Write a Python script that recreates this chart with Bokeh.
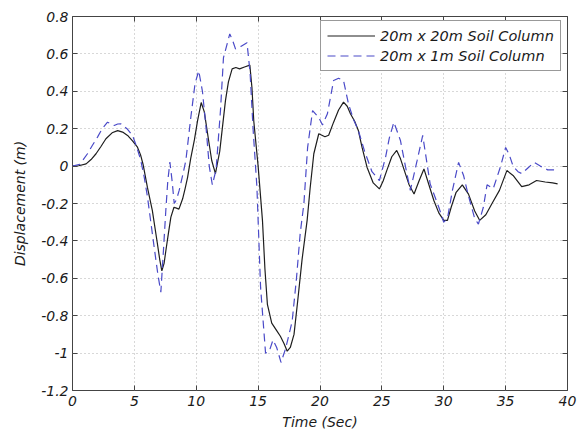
from bokeh.plotting import figure
from bokeh.models import Range1d, LinearAxis, FixedTicker, Legend, LegendItem
from bokeh.embed import file_html
from bokeh.resources import INLINE

# ---- data ----
time_20x20 = [0, 0.5, 1.1, 1.5, 1.9, 2.3, 2.7, 3.2, 3.65, 4.05,
              4.45, 4.85, 5.25, 5.5, 5.7, 6.05, 6.45, 6.85, 7.05, 7.22,
              7.4, 7.55, 7.75, 7.95, 8.2, 8.4, 8.6, 8.9, 9.1, 9.3,
              9.55, 9.85, 10.1, 10.4, 10.65, 11.0, 11.25, 11.55, 11.9, 12.36,
              12.6, 12.9, 13.2, 13.5, 13.9, 14.33, 14.5, 14.65, 15.0, 15.35,
              15.55, 15.75, 16.1, 16.5, 16.8, 17.1, 17.35, 17.6, 17.9, 18.2,
              18.55, 18.96, 19.2, 19.5, 19.9, 20.4, 20.7, 21.1, 21.5, 21.9,
              22.2, 22.46, 22.8, 23.1, 23.4, 23.8, 24.3, 24.8, 25.1, 25.4,
              25.8, 26.2, 26.5, 26.9, 27.2, 27.6, 28.0, 28.4, 28.8, 29.2,
              29.6, 30.0, 30.3, 30.6, 31.0, 31.5, 32.0, 32.5, 32.9, 33.4,
              33.9, 34.5, 35.1, 35.6, 36.3, 36.9, 37.5, 38.2, 38.8, 39.2]
disp_20x20 = [0, 0.002, 0.012, 0.035, 0.066, 0.105, 0.146, 0.178, 0.19, 0.182,
              0.164, 0.135, 0.101, 0.06, 0.01, -0.113, -0.237, -0.41, -0.5, -0.56,
              -0.52, -0.45, -0.36, -0.273, -0.22, -0.225, -0.23, -0.175, -0.12, -0.06,
              0.04, 0.14, 0.24, 0.34, 0.29, 0.137, 0.03, -0.04, 0.08, 0.35,
              0.45, 0.52, 0.527, 0.52, 0.53, 0.54, 0.42, 0.24, 0.0, -0.29,
              -0.55, -0.74, -0.84, -0.88, -0.91, -0.95, -0.99, -0.97, -0.9, -0.72,
              -0.5, -0.29, -0.12, 0.066, 0.173, 0.157, 0.165, 0.235, 0.3, 0.342,
              0.32, 0.28, 0.24, 0.19, 0.1, -0.006, -0.09, -0.122, -0.08, -0.023,
              0.05, 0.084, 0.04, -0.04, -0.1, -0.149, -0.08, -0.015, -0.1, -0.184,
              -0.25, -0.29, -0.29, -0.22, -0.14, -0.1, -0.15, -0.24, -0.29, -0.26,
              -0.2, -0.13, -0.024, -0.05, -0.11, -0.1, -0.077, -0.085, -0.09, -0.095]

time_20x1 = [0, 0.6, 1.21, 1.6, 2.02, 2.4, 2.83, 3.1, 3.37, 3.65,
             3.9, 4.4, 4.85, 5.2, 5.52, 5.8, 6.06, 6.6, 6.9, 7.14,
             7.35, 7.54, 7.7, 7.87, 8.05, 8.22, 8.4, 8.62, 8.9, 9.16,
             9.56, 9.9, 10.2, 10.5, 10.8, 11.05, 11.3, 11.6, 11.96, 12.2,
             12.71, 12.95, 13.17, 13.6, 14.1, 14.35, 14.6, 14.9, 15.2, 15.6,
             15.9, 16.2, 16.5, 16.85, 17.2, 17.5, 17.75, 18.1, 18.4, 18.7,
             19.0, 19.4, 19.9, 20.2, 20.6, 21.1, 21.5, 21.9, 22.3, 22.7,
             23.1, 23.6, 24.2, 24.8, 25.3, 25.6, 25.97, 26.5, 26.9, 27.3,
             27.85, 28.3, 28.9, 29.6, 30.0, 30.3, 30.7, 31.2, 31.6, 32.0,
             32.5, 32.8, 33.2, 33.5, 34.0, 34.6, 35.0, 35.3, 35.6, 36.0,
             36.3, 36.8, 37.3, 37.8, 38.4, 39.2]
disp_20x1 = [0, 0.01, 0.066, 0.11, 0.155, 0.2, 0.235, 0.225, 0.217, 0.225,
             0.226, 0.2, 0.164, 0.1, 0.03, -0.06, -0.166, -0.434, -0.58, -0.674,
             -0.45, -0.237, -0.08, 0.021, -0.08, -0.2, -0.18, -0.13, -0.05, 0.03,
             0.26, 0.44, 0.51, 0.4, 0.2, 0.0, -0.1, -0.02, 0.3, 0.58,
             0.707, 0.67, 0.627, 0.64, 0.66, 0.5, 0.19, -0.11, -0.65, -1.0,
             -0.99, -0.93, -0.97, -1.05, -0.98, -0.9, -0.83, -0.6, -0.36, -0.2,
             0.1, 0.297, 0.26, 0.22, 0.28, 0.458, 0.47, 0.458, 0.333, 0.25,
             0.19, 0.08, -0.03, -0.077, 0.048, 0.15, 0.235, 0.137, 0.0, -0.13,
             0.03, 0.164, -0.095, -0.22, -0.3, -0.28, -0.13, 0.02, -0.05, -0.16,
             -0.28, -0.31, -0.22, -0.1, -0.12, 0.0, 0.1, 0.06, 0.0, -0.03,
             -0.04, -0.01, 0.02, 0.0, -0.02, -0.02]

series_labels = ["20m x 20m Soil Column", "20m x 1m Soil Column"]
x_ticks = [0, 5, 10, 15, 20, 25, 30, 35, 40]
y_ticks = [-1.2, -1, -0.8, -0.6, -0.4, -0.2, 0, 0.2, 0.4, 0.6, 0.8]
y_tick_labels = ["-1.2", "-1", "-0.8", "-0.6", "-0.4", "-0.2", "0", "0.2", "0.4", "0.6", "0.8"]
x_label = "Time (Sec)"
y_label = "Displacement (m)"

FONT = "DejaVu Sans"
TXT = "#1a1a1a"
FRAME = "#444444"

p = figure(width=577, height=432, x_range=Range1d(0, 40), y_range=Range1d(-1.2, 0.8),
           output_backend="svg", toolbar_location=None,
           min_border_left=72, min_border_right=10, min_border_top=16, min_border_bottom=42,
           background_fill_color="white", border_fill_color="white")
p.outline_line_color = FRAME
p.outline_line_width = 1

for ax in (p.xaxis[0], p.yaxis[0]):
    ax.axis_line_color = None
    ax.major_tick_in = 5
    ax.major_tick_out = 0
    ax.major_tick_line_color = FRAME
    ax.minor_tick_line_color = None
    ax.major_label_text_font = FONT
    ax.major_label_text_font_style = "italic"
    ax.major_label_text_font_size = "14px"
    ax.major_label_text_color = TXT
    ax.axis_label_text_font = FONT
    ax.axis_label_text_font_style = "italic"
    ax.axis_label_text_font_size = "14px"
    ax.axis_label_text_color = TXT

p.xaxis[0].ticker = FixedTicker(ticks=x_ticks)
p.yaxis[0].ticker = FixedTicker(ticks=y_ticks)
p.yaxis[0].major_label_overrides = {t: l for t, l in zip(y_ticks, y_tick_labels)}
p.xaxis[0].axis_label = x_label
p.yaxis[0].axis_label = y_label
p.xaxis[0].major_label_standoff = 5
p.yaxis[0].major_label_standoff = 4
p.xaxis[0].axis_label_standoff = 5
p.yaxis[0].axis_label_standoff = 10

# inward ticks on the top and right edges of the box (no labels)
for loc, tick in (("above", x_ticks), ("right", y_ticks)):
    ax = LinearAxis(ticker=FixedTicker(ticks=tick), axis_line_color=None,
                    major_tick_in=5, major_tick_out=0, major_tick_line_color=FRAME,
                    minor_tick_line_color=None, major_label_text_font_size="1px",
                    major_label_overrides={t: "" for t in tick},
                    major_label_standoff=0)
    p.add_layout(ax, loc)

for g in (p.xgrid[0], p.ygrid[0]):
    g.grid_line_color = "#b0b0b0"
    g.grid_line_dash = "1 3"
    g.grid_line_width = 1
p.xgrid[0].ticker = FixedTicker(ticks=x_ticks)
p.ygrid[0].ticker = FixedTicker(ticks=y_ticks)

r1 = p.line(time_20x20, disp_20x20, line_color="#1e1e1e", line_width=1.2)
r2 = p.line(time_20x1, disp_20x1, line_color="#4a4ac8", line_width=1.2, line_dash="8 5")

legend = Legend(items=[LegendItem(label=series_labels[0], renderers=[r1]),
                       LegendItem(label=series_labels[1], renderers=[r2])],
                location=(248, 319), border_line_color="#333333", border_line_width=1,
                background_fill_color="white", background_fill_alpha=1,
                label_text_font=FONT, label_text_font_style="italic",
                label_text_font_size="14.5px", label_text_color=TXT,
                glyph_width=48, glyph_height=17, label_height=17, label_standoff=5,
                padding=6, spacing=3, margin=0)
p.add_layout(legend)

open("out.html", "w").write(file_html(p, INLINE))
